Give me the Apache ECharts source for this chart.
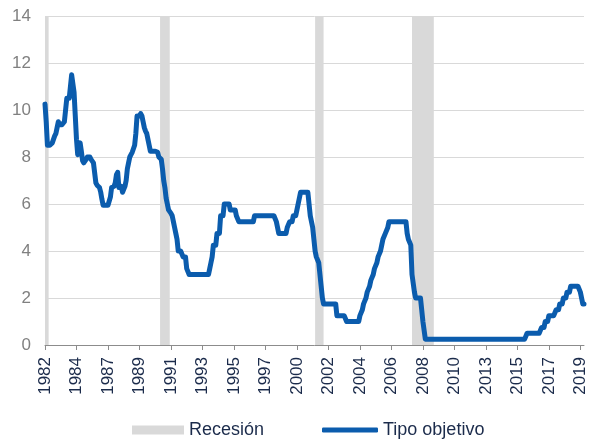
<!DOCTYPE html>
<html lang="es">
<head>
  <meta charset="UTF-8">
  <title>Tipo objetivo</title>
  <style>
    html, body { width: 100%; height: 100%; padding: 0; margin: 0; background: #fff; }
    #chart { width: 589px; height: 440px; }
  </style>
</head>
<body>
  <div id="chart"></div>
  <script src="https://cdn.jsdelivr.net/npm/echarts@6/dist/echarts.min.js"></script>
  <script>
    // serie mensual desde oct-1982 hasta nov-2019
    var startYear = 1982, startMonth = 10;

    var rates = [
      10.25, 9.5, 8.5,                                                      // 1982 (oct-dic)
      8.5, 8.5, 8.5, 8.6, 8.75, 8.9, 9.0, 9.25, 9.5, 9.375, 9.375, 9.375,    // 1983
      9.375, 9.5, 9.5, 10.5, 10.5, 10.5, 11.0, 11.5, 11.5, 10.75, 9.75, 8.75, // 1984
      8.1, 8.5, 8.6, 8.25, 7.85, 7.75, 7.75, 7.9, 8.0, 8.0, 8.0, 7.9,        // 1985
      7.9, 7.75, 7.75, 6.9, 6.8, 6.8, 6.7, 6.5, 6.2, 5.95, 5.95, 5.95,       // 1986
      5.95, 5.95, 5.95, 6.3, 6.7, 6.75, 6.75, 6.9, 7.25, 7.35, 6.7, 6.75,    // 1987
      6.75, 6.5, 6.5, 6.75, 7.0, 7.5, 7.75, 8.0, 8.1, 8.2, 8.25, 8.5,        // 1988
      9.0, 9.75, 9.75, 9.75, 9.85, 9.75, 9.5, 9.25, 9.1, 9.0, 8.75, 8.5,     // 1989
      8.25, 8.25, 8.25, 8.25, 8.25, 8.25, 8.2, 8.0, 8.0, 7.9, 7.5, 7.0,      // 1990
      6.7, 6.25, 6.0, 5.75, 5.75, 5.6, 5.5, 5.25, 5.0, 4.75, 4.5, 4.0,       // 1991
      4.0, 4.0, 4.0, 3.75, 3.75, 3.75, 3.25, 3.25, 3.0, 3.0, 3.0, 3.0,       // 1992
      3.0, 3.0, 3.0, 3.0, 3.0, 3.0, 3.0, 3.0, 3.0, 3.0, 3.0, 3.0,            // 1993
      3.0, 3.25, 3.5, 3.75, 4.25, 4.25, 4.25, 4.75, 4.75, 4.75, 5.5, 5.5,    // 1994
      5.5, 6.0, 6.0, 6.0, 6.0, 6.0, 5.75, 5.75, 5.75, 5.75, 5.75, 5.5,       // 1995
      5.5, 5.25, 5.25, 5.25, 5.25, 5.25, 5.25, 5.25, 5.25, 5.25, 5.25, 5.25, // 1996
      5.25, 5.25, 5.5, 5.5, 5.5, 5.5, 5.5, 5.5, 5.5, 5.5, 5.5, 5.5,          // 1997
      5.5, 5.5, 5.5, 5.5, 5.5, 5.5, 5.5, 5.5, 5.25, 5.0, 4.75, 4.75,         // 1998
      4.75, 4.75, 4.75, 4.75, 4.75, 5.0, 5.0, 5.25, 5.25, 5.25, 5.5, 5.5,    // 1999
      5.5, 5.75, 6.0, 6.0, 6.5, 6.5, 6.5, 6.5, 6.5, 6.5, 6.5, 6.5,           // 2000
      5.5, 5.5, 5.0, 4.5, 4.0, 3.75, 3.75, 3.5, 3.0, 2.5, 2.0, 1.75,         // 2001
      1.75, 1.75, 1.75, 1.75, 1.75, 1.75, 1.75, 1.75, 1.75, 1.75, 1.25, 1.25, // 2002
      1.25, 1.25, 1.25, 1.25, 1.25, 1.25, 1.0, 1.0, 1.0, 1.0, 1.0, 1.0,      // 2003
      1.0, 1.0, 1.0, 1.0, 1.0, 1.25, 1.25, 1.5, 1.75, 1.75, 2.0, 2.25,       // 2004
      2.25, 2.5, 2.75, 2.75, 3.0, 3.25, 3.25, 3.5, 3.75, 3.75, 4.0, 4.25,    // 2005
      4.5, 4.5, 4.75, 4.75, 5.0, 5.25, 5.25, 5.25, 5.25, 5.25, 5.25, 5.25,   // 2006
      5.25, 5.25, 5.25, 5.25, 5.25, 5.25, 5.25, 5.25, 4.75, 4.5, 4.5, 4.25,  // 2007
      3.0, 3.0, 2.25, 2.0, 2.0, 2.0, 2.0, 2.0, 2.0, 1.0, 1.0, 0.25,          // 2008
      0.25, 0.25, 0.25, 0.25, 0.25, 0.25, 0.25, 0.25, 0.25, 0.25, 0.25, 0.25, // 2009
      0.25, 0.25, 0.25, 0.25, 0.25, 0.25, 0.25, 0.25, 0.25, 0.25, 0.25, 0.25, // 2010
      0.25, 0.25, 0.25, 0.25, 0.25, 0.25, 0.25, 0.25, 0.25, 0.25, 0.25, 0.25, // 2011
      0.25, 0.25, 0.25, 0.25, 0.25, 0.25, 0.25, 0.25, 0.25, 0.25, 0.25, 0.25, // 2012
      0.25, 0.25, 0.25, 0.25, 0.25, 0.25, 0.25, 0.25, 0.25, 0.25, 0.25, 0.25, // 2013
      0.25, 0.25, 0.25, 0.25, 0.25, 0.25, 0.25, 0.25, 0.25, 0.25, 0.25, 0.25, // 2014
      0.25, 0.25, 0.25, 0.25, 0.25, 0.25, 0.25, 0.25, 0.25, 0.25, 0.25, 0.5,  // 2015
      0.5, 0.5, 0.5, 0.5, 0.5, 0.5, 0.5, 0.5, 0.5, 0.5, 0.5, 0.75,           // 2016
      0.75, 0.75, 1.0, 1.0, 1.0, 1.25, 1.25, 1.25, 1.25, 1.25, 1.25, 1.5,    // 2017
      1.5, 1.5, 1.75, 1.75, 1.75, 2.0, 2.0, 2.0, 2.25, 2.25, 2.25, 2.5,      // 2018
      2.5, 2.5, 2.5, 2.5, 2.5, 2.5, 2.5, 2.25, 2.0, 1.75, 1.75               // 2019 (ene-nov)
    ];

    // recesiones [inicio, fin], tal como aparecen sombreadas
    var recessions = [
      ['1982-10', '1983-01'],
      ['1990-09', '1991-05'],
      ['2001-05', '2001-12'],
      ['2008-01', '2009-07']
    ];

    var months = [];
    for (var i = 0; i < rates.length; i++) {
      var m = startMonth - 1 + i;
      var y = startYear + Math.floor(m / 12);
      var mm = (m % 12) + 1;
      months.push(y + '-' + (mm < 10 ? '0' + mm : mm));
    }

    var navy = '#1b2b4b';
    var blue = '#0b5cad';
    var grey = '#d9d9d9';
    var font = 'Liberation Sans';

    var chart = echarts.init(document.getElementById('chart'));
    chart.setOption({
      animation: false,
      textStyle: { fontFamily: font },
      grid: { left: 45, right: 5, top: 16, bottom: 95 },
      legend: [
        {
          data: [{ name: 'Recesión', icon: 'rect', itemStyle: { color: grey } }],
          left: 132, top: 421, padding: 0,
          itemWidth: 52, itemHeight: 9, itemGap: 6,
          textStyle: { color: navy, fontSize: 18, fontFamily: font }
        },
        {
          data: [{ name: 'Tipo objetivo', icon: 'roundRect' }],
          left: 322, top: 421, padding: 0,
          itemWidth: 56, itemHeight: 5, itemGap: 4,
          textStyle: { color: navy, fontSize: 18, fontFamily: font }
        }
      ],
      xAxis: {
        type: 'category',
        data: months,
        boundaryGap: false,
        axisLine: { lineStyle: { color: '#8c8c8c', width: 1 } },
        axisTick: { interval: 25, length: 5, lineStyle: { color: '#8c8c8c' } },
        axisLabel: {
          interval: 25, rotate: 90, color: navy, fontSize: 17, margin: 12,
          formatter: function (v) { return v.slice(0, 4); }
        },
        splitLine: { show: false }
      },
      yAxis: {
        type: 'value',
        min: 0, max: 14, interval: 2,
        axisLine: { show: false },
        axisTick: { show: false },
        axisLabel: { color: '#808080', fontSize: 17, margin: 14 },
        splitLine: { lineStyle: { color: grey, width: 1 } }
      },
      series: [
        {
          name: 'Recesión',
          type: 'line',
          data: [],
          itemStyle: { color: grey },
          markArea: {
            silent: true,
            itemStyle: { color: grey },
            data: recessions.map(function (r) { return [{ xAxis: r[0] }, { xAxis: r[1] }]; })
          }
        },
        {
          name: 'Tipo objetivo',
          type: 'line',
          data: rates,
          showSymbol: false,
          itemStyle: { color: blue },
          lineStyle: { color: blue, width: 5, join: 'round', cap: 'round' },
          z: 3
        }
      ]
    });
  </script>
</body>
</html>
